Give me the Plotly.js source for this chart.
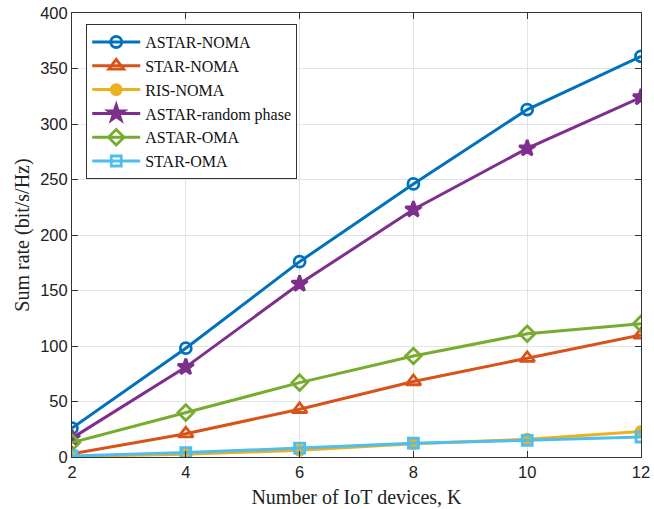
<!DOCTYPE html>
<html><head><meta charset="utf-8">
<script src="https://cdn.plot.ly/plotly-3.0.1.min.js"></script>
<style>body{margin:0;padding:0;background:#fff}#chart{width:654px;height:509px}</style>
</head><body><div id="chart"></div>
<script>
const K = [2, 4, 6, 8, 10, 12];
const astarNoma = [26, 98, 176, 246, 313, 361];
const starNoma = [3, 21, 43, 68, 89, 110];
const risNoma = [0.5, 2.5, 6, 12, 16, 23];
const astarRandom = [17, 81, 156, 223, 278, 324];
const astarOma = [13, 40, 67, 91, 111, 120];
const starOma = [1, 4, 8, 12.5, 15, 18];
const names = ['ASTAR-NOMA','STAR-NOMA','RIS-NOMA','ASTAR-random phase','ASTAR-OMA','STAR-OMA'];
const colors = ['#0072BD','#D95319','#EDB120','#7E2F8E','#77AC30','#4DBEEE'];
const symbols = ['circle-open','triangle-up-open','circle','star','diamond-open','square-open'];
const sizes = [11,13,10,12,12,10];
const series = [astarNoma, starNoma, risNoma, astarRandom, astarOma, starOma];
const traces = series.map((y,i)=>({
  x: K, y: y, name: names[i], type:'scatter', mode:'lines+markers',
  line:{color:colors[i], width:3},
  marker:{symbol:symbols[i], size:sizes[i], color:colors[i], line:{color:colors[i], width:2.8}}
}));
const layout = {
  width:654, height:509,
  margin:{l:72, r:13, t:13, b:52},
  paper_bgcolor:'#fff', plot_bgcolor:'#fff',
  showlegend:true,
  legend:{x:0.025, y:0.975, xanchor:'left', yanchor:'top', bgcolor:'#fff', bordercolor:'#333', borderwidth:1,
    font:{family:'Liberation Serif, Times New Roman, serif', size:16, color:'#111'}, tracegroupgap:0, itemwidth:48},
  xaxis:{range:[2,12], tickvals:[2,4,6,8,10,12], ticks:'inside', ticklen:6, tickcolor:'#333',
    showgrid:true, gridcolor:'#e3e3e3', zeroline:false, showline:true, linecolor:'#333', mirror:'ticks',
    tickfont:{family:'Liberation Sans, Arial, sans-serif', size:16.5, color:'#222'},
    title:{text:'Number of IoT devices, K', font:{family:'Liberation Serif, Times New Roman, serif', size:20, color:'#222'}, standoff:10}},
  yaxis:{range:[0,400], tickvals:[0,50,100,150,200,250,300,350,400], ticks:'inside', ticklen:6, tickcolor:'#333',
    showgrid:true, gridcolor:'#e3e3e3', zeroline:false, showline:true, linecolor:'#333', mirror:'ticks',
    tickfont:{family:'Liberation Sans, Arial, sans-serif', size:16.5, color:'#222'},
    title:{text:'Sum rate (bit/s/Hz)', font:{family:'Liberation Serif, Times New Roman, serif', size:20, color:'#222'}, standoff:5}}
};
Plotly.newPlot('chart', traces, layout, {displayModeBar:false, staticPlot:true});
</script></body></html>
